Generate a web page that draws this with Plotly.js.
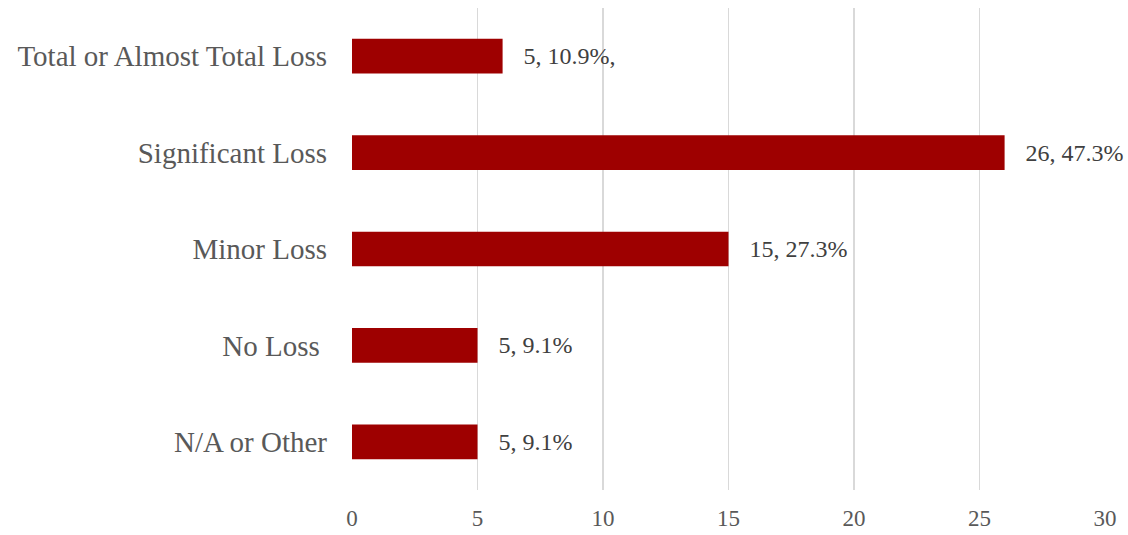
<!DOCTYPE html>
<html><head><meta charset="utf-8">
<script src="https://cdn.plot.ly/plotly-3.0.1.min.js"></script>
<style>html,body{margin:0;padding:0;background:#fff}#chart{width:1128px;height:535px}</style>
</head><body><div id="chart"></div>
<script>
const categories = ["N/A or Other", "No Loss ", "Minor Loss", "Significant Loss", "Total or Almost Total Loss"];
const values = [5, 5, 15, 26, 6];
const labels = ["5, 9.1%", "5, 9.1%", "15, 27.3%", "26, 47.3%", "5, 10.9%,"];
const xTicks = [0, 5, 10, 15, 20, 25, 30];

const serif = "Liberation Serif, Times New Roman, serif";
Plotly.newPlot('chart', [{
  type: 'bar', orientation: 'h',
  y: categories, x: values,
  text: labels, texttemplate: '\u00a0\u00a0\u00a0%{text}', textposition: 'outside', cliponaxis: false,
  textfont: {family: serif, size: 24, color: '#404040'},
  marker: {color: '#9E0000'},
  hoverinfo: 'none'
}], {
  width: 1128, height: 535,
  margin: {l: 352, r: 23, t: 8, b: 45},
  paper_bgcolor: '#fff', plot_bgcolor: '#fff',
  bargap: 0.64,
  showlegend: false,
  xaxis: {range: [0, 30], tickvals: xTicks, showgrid: true, gridcolor: '#d9d9d9', gridwidth: 1.5,
          zeroline: false, showline: false, ticks: '', ticklabelstandoff: 12,
          tickfont: {family: serif, size: 23, color: '#595959'}},
  yaxis: {showgrid: false, zeroline: false, showline: false, ticks: '', ticklen: 0,
          ticklabelstandoff: 24,
          tickfont: {family: serif, size: 29, color: '#595959'}, automargin: false}
}, {displayModeBar: false, staticPlot: true});
</script></body></html>
